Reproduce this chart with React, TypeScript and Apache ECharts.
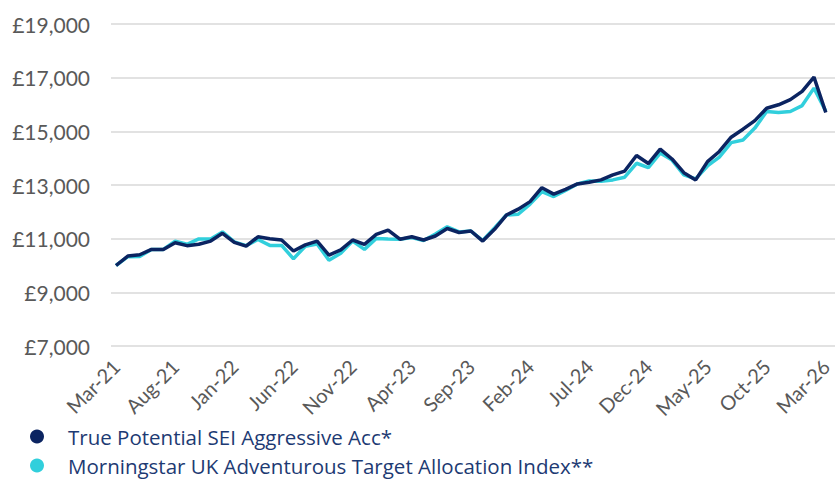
import React, { useEffect, useRef } from "react";
import * as echarts from "echarts";

const months = [
  "Mar-21","Apr-21","May-21","Jun-21","Jul-21","Aug-21","Sep-21","Oct-21","Nov-21","Dec-21",
  "Jan-22","Feb-22","Mar-22","Apr-22","May-22","Jun-22","Jul-22","Aug-22","Sep-22","Oct-22",
  "Nov-22","Dec-22","Jan-23","Feb-23","Mar-23","Apr-23","May-23","Jun-23","Jul-23","Aug-23",
  "Sep-23","Oct-23","Nov-23","Dec-23","Jan-24","Feb-24","Mar-24","Apr-24","May-24","Jun-24",
  "Jul-24","Aug-24","Sep-24","Oct-24","Nov-24","Dec-24","Jan-25","Feb-25","Mar-25","Apr-25",
  "May-25","Jun-25","Jul-25","Aug-25","Sep-25","Oct-25","Nov-25","Dec-25","Jan-26","Feb-26",
  "Mar-26",
];

const fundName = "True Potential SEI Aggressive Acc*";
const indexName = "Morningstar UK Adventurous Target Allocation Index**";

const fundValues = [
  10000, 10350, 10400, 10600, 10600, 10850, 10740, 10790, 10910, 11200,
  10860, 10720, 11070, 11000, 10950, 10540, 10770, 10910, 10390, 10580,
  10950, 10790, 11160, 11320, 10980, 11070, 10950, 11100, 11380, 11230,
  11285, 10910, 11350, 11880, 12100, 12380, 12900, 12660, 12840, 13040,
  13100, 13190, 13380, 13520, 14100, 13800, 14340, 13970, 13460, 13190,
  13870, 14250, 14780, 15080, 15400, 15860, 15990, 16180, 16490, 17020,
  15700,
];

const indexValues = [
  10000, 10330, 10340, 10600, 10600, 10910, 10790, 10990, 10990, 11250,
  10880, 10740, 10970, 10750, 10750, 10250, 10720, 10800, 10200, 10460,
  10910, 10600, 11010, 10990, 10980, 11040, 10930, 11170, 11440, 11250,
  11285, 10930, 11400, 11880, 11910, 12290, 12750, 12570, 12800, 13040,
  13150, 13140, 13190, 13290, 13810, 13650, 14190, 13930, 13380, 13230,
  13710, 14040, 14580, 14680, 15120, 15740, 15700, 15740, 15960, 16610,
  15750,
];

const yMin = 7000;
const yMax = 19000;
const yStep = 2000;

const NAVY = "#0b2461";
const CYAN = "#31cfdc";
const FONT = "Lato";
const LEGEND_FONT = "Open Sans";

export default function App() {
  const ref = useRef<HTMLDivElement>(null);

  useEffect(() => {
    if (!ref.current) return;
    const chart = echarts.init(ref.current, undefined, { renderer: "svg" });
    const fmt = (v: number) => "£" + v.toLocaleString("en-GB");
    const legendBase = {
      orient: "horizontal",
      left: 30,
      padding: 0,
      itemWidth: 14,
      itemHeight: 14,
      icon: "circle",
      textStyle: { color: "#1d3a73", fontSize: 20.5, fontFamily: LEGEND_FONT, padding: [0, 0, 0, 19] },
    };
    chart.setOption({
      animation: false,
      backgroundColor: "#ffffff",
      textStyle: { fontFamily: FONT },
      grid: [
        { left: 111, right: 0, top: 24, bottom: 134, containLabel: false },
        { left: 116, right: 1, top: 24, bottom: 134, containLabel: false },
      ],
      legend: [
        { ...legendBase, top: 426, data: [fundName] },
        { ...legendBase, top: 455, data: [indexName] },
      ],
      xAxis: [
        {
          gridIndex: 0,
          type: "category",
          data: months,
          show: false,
        },
        {
          gridIndex: 1,
          type: "category",
          data: months,
          boundaryGap: false,
          axisLine: { show: false },
          axisTick: { show: false },
          splitLine: { show: false },
          axisLabel: {
            interval: 4,
            rotate: 45,
            margin: 17,
            color: "#595959",
            fontSize: 20,
            fontFamily: FONT,
          },
        },
      ],
      yAxis: [
        {
          gridIndex: 0,
          type: "value",
          min: yMin,
          max: yMax,
          interval: yStep,
          axisLine: { show: false },
          axisTick: { show: false },
          splitLine: { show: true, lineStyle: { color: "#d9d9d9", width: 1.5 } },
          axisLabel: {
            formatter: fmt,
            margin: 21,
            color: "#595959",
            fontSize: 21,
            fontFamily: FONT,
          },
        },
        {
          gridIndex: 1,
          type: "value",
          min: yMin,
          max: yMax,
          interval: yStep,
          show: false,
          splitLine: { show: false },
        },
      ],
      series: [
        {
          name: indexName,
          type: "line",
          xAxisIndex: 1,
          yAxisIndex: 1,
          data: indexValues,
          symbol: "none",
          color: CYAN,
          lineStyle: { color: CYAN, width: 3.5 },
        },
        {
          name: fundName,
          type: "line",
          xAxisIndex: 1,
          yAxisIndex: 1,
          data: fundValues,
          symbol: "none",
          color: NAVY,
          lineStyle: { color: NAVY, width: 3.5 },
        },
      ],
    });
    return () => chart.dispose();
  }, []);

  return (
    <div
      ref={ref}
      style={{ position: "absolute", left: 0, top: 0, width: 835, height: 480 }}
    />
  );
}
